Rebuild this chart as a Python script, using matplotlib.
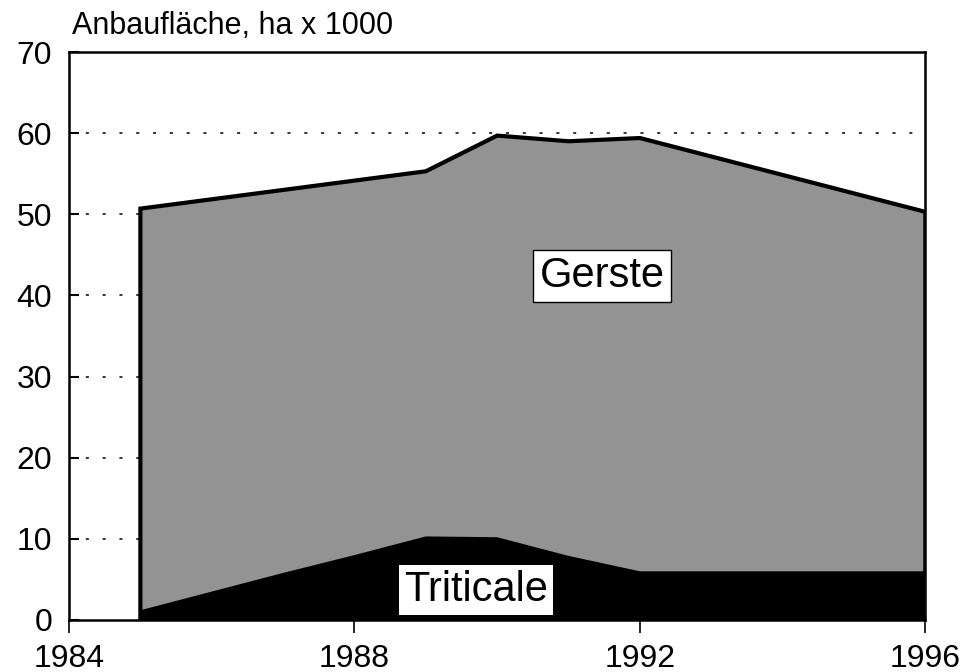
import matplotlib
matplotlib.use('Agg')
import matplotlib.pyplot as plt

plt.rcParams['font.family'] = ['Liberation Sans', 'DejaVu Sans']

# values (area in ha x 1000)
years_total = [1985, 1989, 1990, 1991, 1992, 1996]
total = [50.7, 55.3, 59.7, 59.0, 59.4, 50.3]

years_trit = [1985, 1986, 1987, 1988, 1989, 1990, 1991, 1992, 1996]
triticale = [1.2, 3.5, 5.8, 8.0, 10.3, 10.2, 7.9, 6.0, 6.0]

grid_levels = [10, 20, 30, 40, 50, 60]
x_ticks = [1984, 1988, 1992, 1996]
y_ticks = [0, 10, 20, 30, 40, 50, 60, 70]

fig = plt.figure(figsize=(9.72, 6.72), dpi=100)
ax = fig.add_axes([0.071, 0.0774, 0.881, 0.8452])

# dotted guide lines behind the areas
for lev in grid_levels:
    ax.axhline(lev, color='black', lw=1.1, dashes=(2, 9), zorder=0)

# Gerste (stippled grey in the original) fills everything up to the total
ax.fill_between(years_total, 0, total, facecolor='#939393', edgecolor='none', zorder=1)
ax.plot([years_total[0]] + years_total + [years_total[-1]],
        [0] + total + [0], color='black', lw=3, zorder=3, solid_joinstyle='miter')

# Triticale in black at the bottom
ax.fill_between(years_trit, 0, triticale, facecolor='black', edgecolor='none', zorder=2)

ax.text(1991.47, 42.4, 'Gerste', fontsize=30, ha='center', va='center', zorder=5,
        bbox=dict(boxstyle='square,pad=0.15', facecolor='white', edgecolor='black', lw=1))
ax.text(1989.7, 3.7, 'Triticale', fontsize=30, ha='center', va='center', zorder=5,
        bbox=dict(boxstyle='square,pad=0.12', facecolor='white', edgecolor='none'))

ax.text(0.003, 1.02, 'Anbaufläche, ha x 1000', transform=ax.transAxes,
        fontsize=22, ha='left', va='bottom')

ax.set_xlim(1984, 1996)
ax.set_ylim(0, 70)
ax.set_xticks(x_ticks)
ax.set_yticks(y_ticks)
ax.tick_params(axis='x', direction='out', length=9, width=1.2, pad=8, labelsize=23)
ax.tick_params(axis='y', direction='in', length=7, width=1.5, pad=12, labelsize=23)

for sp in ax.spines.values():
    sp.set_linewidth(1.8)
    sp.set_zorder(4)

fig.savefig('out.png', dpi=100)
